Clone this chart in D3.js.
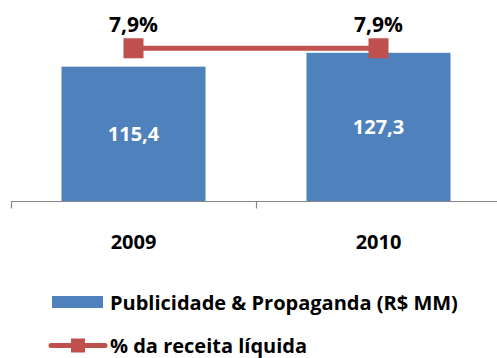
<!DOCTYPE html>
<html>
<head>
<meta charset="utf-8">
<script src="https://cdn.jsdelivr.net/npm/d3@7"></script>
<style>
  html, body { margin: 0; padding: 0; background: #fff; }
  svg { display: block; font-family: "Open Sans", Lato, sans-serif; font-weight: bold; }
</style>
</head>
<body>
<svg id="chart" width="497" height="358"></svg>
<script>
// Advertising spend (R$ MM) and its share of net revenue
const years = ["2009", "2010"];
const spend = [115.4, 127.3];
const spendLabels = ["115,4", "127,3"];
const share = [7.9, 7.9];
const shareLabels = ["7,9%", "7,9%"];
const legendNames = ["Publicidade & Propaganda (R$ MM)", "% da receita líquida"];

const blue = "#4F81BD", red = "#C0504D", axisGrey = "#868686";

const svg = d3.select("#chart");
const baseY = 201;

const x = d3.scaleBand().domain(years).range([11, 501])
  .paddingInner(0.412).paddingOuter(0.206);
const y = d3.scaleLinear().domain([0, 180]).range([baseY, baseY - 209.5]);
const y2 = d3.scaleLinear().domain([0, 9]).range([baseY, 27]);
const cx = d => x(d) + x.bandwidth() / 2;

// bars
svg.append("g").selectAll("rect").data(years).join("rect")
  .attr("x", d => x(d))
  .attr("width", x.bandwidth())
  .attr("y", (d, i) => y(spend[i]))
  .attr("height", (d, i) => baseY - y(spend[i]))
  .attr("fill", blue);

// value labels centred in the bars
svg.append("g").selectAll("text").data(years).join("text")
  .attr("x", d => cx(d))
  .attr("y", (d, i) => (y(spend[i]) + baseY) / 2)
  .attr("dy", "0.36em")
  .attr("text-anchor", "middle")
  .attr("fill", "#fff")
  .attr("font-size", 20)
  .text((d, i) => spendLabels[i]);

// category axis with separators between categories
const axisScale = d3.scalePoint().domain(["a", "b", "c"]).range([11, 501]);
const axis = svg.append("g").attr("transform", `translate(0,${baseY + 0.5})`)
  .call(d3.axisBottom(x).tickSize(0).tickFormat(""));
axis.select(".domain").attr("stroke", axisGrey).attr("stroke-width", 1.2).attr("d", "M11,0H501");
axis.selectAll(".tick").remove();
axis.selectAll("line.sep").data(axisScale.domain()).join("line")
  .attr("class", "sep")
  .attr("x1", d => Math.round(axisScale(d)) + 0.5).attr("x2", d => Math.round(axisScale(d)) + 0.5)
  .attr("y1", 0).attr("y2", 7)
  .attr("stroke", axisGrey).attr("stroke-width", 1.2);

svg.append("g").selectAll("text").data(years).join("text")
  .attr("x", d => cx(d))
  .attr("y", 249)
  .attr("text-anchor", "middle")
  .attr("fill", "#000")
  .attr("font-size", 20)
  .text(d => d);

// share line with square markers
const line = d3.line().x(d => cx(d)).y((d, i) => y2(share[i]));
svg.append("path").datum(years)
  .attr("d", line)
  .attr("fill", "none")
  .attr("stroke", red)
  .attr("stroke-width", 5);

svg.append("g").selectAll("rect").data(years).join("rect")
  .attr("x", d => cx(d) - 10)
  .attr("y", (d, i) => y2(share[i]) - 10)
  .attr("width", 20).attr("height", 20)
  .attr("fill", red);

svg.append("g").selectAll("text").data(years).join("text")
  .attr("x", d => cx(d))
  .attr("y", (d, i) => y2(share[i]) - 16.5)
  .attr("text-anchor", "middle")
  .attr("fill", "#000")
  .attr("font-size", 21)
  .text((d, i) => shareLabels[i]);

// legend
const lg = svg.append("g");
lg.append("rect").attr("x", 52).attr("y", 296).attr("width", 51).attr("height", 12).attr("fill", blue);
lg.append("text").attr("x", 110).attr("y", 309.5).attr("font-size", 20).attr("fill", "#000").text(legendNames[0]);

lg.append("line").attr("x1", 51).attr("x2", 105).attr("y1", 345.5).attr("y2", 345.5)
  .attr("stroke", red).attr("stroke-width", 5).attr("stroke-linecap", "round");
lg.append("rect").attr("x", 71).attr("y", 338.5).attr("width", 14).attr("height", 14).attr("fill", red);
lg.append("text").attr("x", 110).attr("y", 352.5).attr("font-size", 20).attr("fill", "#000").text(legendNames[1]);
</script>
</body>
</html>
